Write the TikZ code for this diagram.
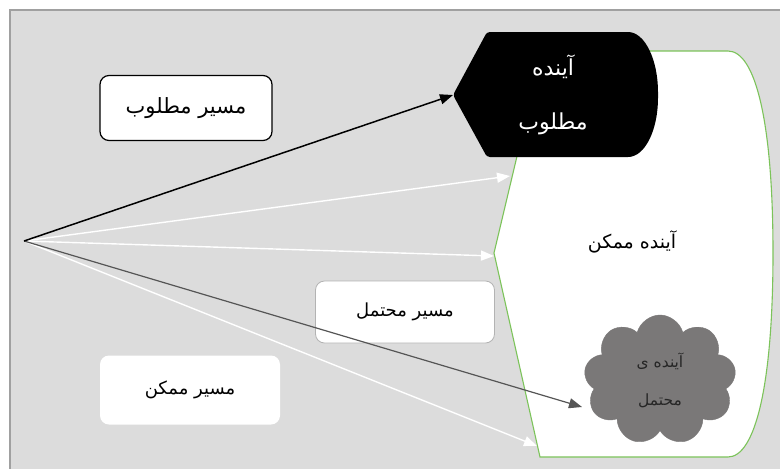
\documentclass[tikz,border=0pt]{standalone}
\usepackage{fontspec}
\usetikzlibrary{arrows.meta,shapes.symbols}
\newfontfamily\fa[Script=Arabic]{DejaVu Sans}
\TeXXeTstate=1
\newcommand\fatxt[1]{{\fa\beginR #1\endR}}
\definecolor{panel}{HTML}{DCDCDC}
\definecolor{frame}{HTML}{A0A0A0}
\definecolor{cloudg}{HTML}{7A7878}
\definecolor{greenb}{HTML}{7CC35A}
\definecolor{darkl}{HTML}{555555}
\tikzset{
  lbl/.style={rounded corners=9pt, fill=white, align=center, inner sep=0pt},
  tip/.style={-{Triangle[length=13pt,width=10pt]}},
  whiteln/.style={tip, draw=white, line width=1.4pt},
}
\begin{document}
\begin{tikzpicture}[x=1pt,y=-1pt]
\useasboundingbox (0,0) rectangle (780,469);
\fill[white] (0,0) rectangle (780,469);
\draw[frame, line width=1.5pt, fill=panel] (10,10) rectangle (790,479);

% possible future (white shape)
\draw[greenb, line width=1.1pt, fill=white]
  (494,253) -- (542,51) -- (728,51)
  .. controls (755,51) and (773,120) .. (773,253)
  .. controls (773,386) and (755,457) .. (728,457)
  -- (540,457) -- cycle;
\node[font=\fontsize{19}{22}\selectfont] (possible) at (632,242) {\fatxt{آینده ممکن}};

% desired future (black shape)
\fill[black, rounded corners=3pt]
  (453,95) -- (487,32) -- (625,32)
  .. controls (645,32) and (658,60) .. (658,95)
  .. controls (658,130) and (645,157) .. (625,157)
  -- (487,157) -- cycle;
\coordinate (desiredL) at (453,95);
\node[text=white, font=\fontsize{22}{54}\selectfont, align=center] (desired) at (553,95)
  {\fatxt{آینده}\\\fatxt{مطلوب}};

% probable future (cloud)
\node[cloud, cloud puffs=9, aspect=1.15, fill=cloudg, draw=cloudg,
      minimum width=152pt, minimum height=130pt, inner sep=0pt,
      text=black!85, font=\fontsize{15.5}{38}\selectfont, align=center] (probable) at (660,380)
  {\fatxt{آینده ی}\\\fatxt{محتمل}};

% labels
\node[lbl, draw=black, line width=1.2pt, minimum width=172pt, minimum height=65pt,
      font=\fontsize{21}{24}\selectfont] (lbl1) at (186,108) {\fatxt{مسیر مطلوب}};
\node[lbl, draw=frame!80, line width=0.8pt, minimum width=179pt, minimum height=62pt,
      font=\fontsize{18}{21}\selectfont] (lbl2) at (405,312) {\fatxt{مسیر محتمل}};
\node[lbl, minimum width=180pt, minimum height=69pt,
      font=\fontsize{18}{21}\selectfont] (lbl3) at (190,390) {\fatxt{مسیر ممکن}};

% arrows
\coordinate (o) at (24,241);
\coordinate (w1) at (510,176);
\coordinate (w2) at (494,256);
\coordinate (w3) at (537,446);
\coordinate (c1) at (582,407);
\draw[whiteln] (o) -- (w1);
\draw[whiteln] (o) -- (w2);
\draw[whiteln] (o) -- (w3);
\draw[tip, darkl, line width=1.2pt] (o) -- (c1);
\draw[tip, black, line width=1.5pt] (o) -- (desiredL);
\end{tikzpicture}
\end{document}
